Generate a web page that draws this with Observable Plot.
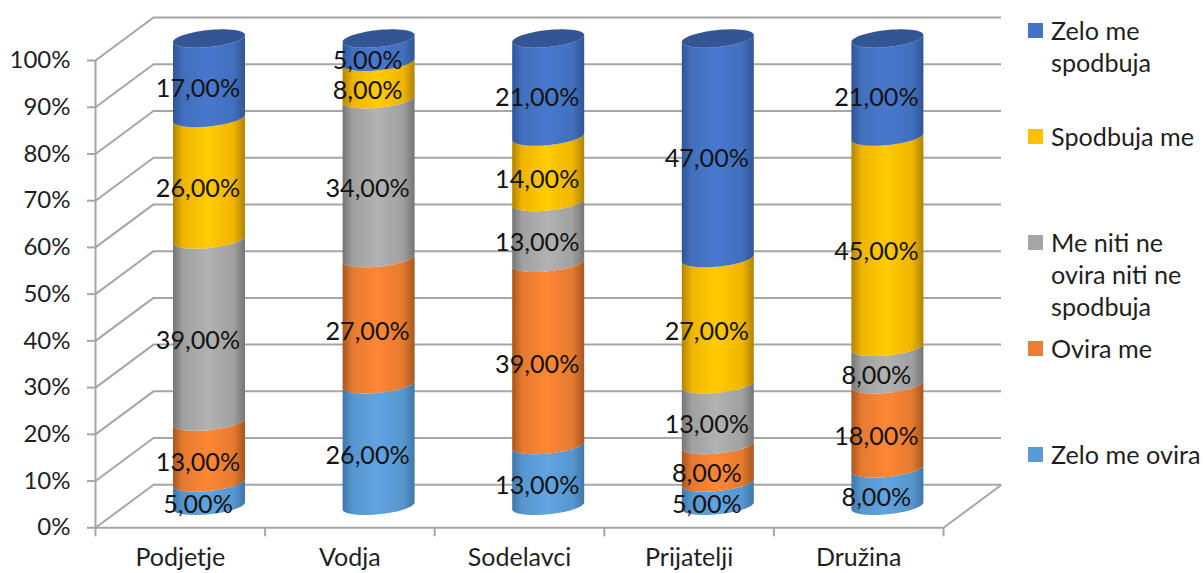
<!DOCTYPE html>
<html>
<head>
<meta charset="utf-8">
<script src="https://cdn.jsdelivr.net/npm/d3@7"></script>
<script src="https://cdn.jsdelivr.net/npm/@observablehq/plot@0.6"></script>
<style>
  html, body { margin: 0; padding: 0; background: #fff; }
  #chart { position: relative; width: 1203px; height: 573px; overflow: hidden; font-family: Lato, sans-serif; }
  #chart svg { display: block; }
  #legend { position: absolute; left: 1028px; top: 14px; width: 175px; color: #1f1f1f; font-size: 25.2px; line-height: 32px; }
  #legend .entry { height: 106px; display: flex; align-items: flex-start; }
  #legend .swatch { flex: none; width: 15px; height: 15px; margin: 9px 8px 0 0; }
</style>
</head>
<body>
<div id="chart"></div>
<script>
// Share of answers per group, in percent.
const groups = ["Podjetje", "Vodja", "Sodelavci", "Prijatelji", "Družina"];
const seriesNames = ["Zelo me ovira", "Ovira me", "Me niti ne ovira niti ne spodbuja", "Spodbuja me", "Zelo me spodbuja"];
const zeloMeOvira = [5, 26, 13, 5, 8];
const oviraMe = [13, 27, 39, 8, 18];
const meNiti = [39, 34, 13, 13, 8];
const spodbujaMe = [26, 8, 14, 27, 45];
const zeloMeSpodbuja = [17, 5, 21, 47, 21];
const seriesValues = [zeloMeOvira, oviraMe, meNiti, spodbujaMe, zeloMeSpodbuja];
const percentTicks = [0, 10, 20, 30, 40, 50, 60, 70, 80, 90, 100];

// Swatch colour and cylinder shading (edge, shoulder, highlight) per series.
const swatchColors = ["#5B9BD5", "#ED7D31", "#A5A5A5", "#FFC000", "#4472C4"];
const shading = [
  ["#3F77A8", "#5796CF", "#60A4E2"],
  ["#A8561F", "#E57A2F", "#FF8735"],
  ["#757575", "#A0A0A0", "#B2B2B2"],
  ["#B08400", "#F0B500", "#FFCC00"],
  ["#2F5596", "#4270BE", "#4878CE"]
];
const capColor = "#335593";

// Drawing geometry of the pseudo-3D box, in scale units.
const pxPerX = 848 / 5;
const pxPerY = 467.3 / 100;
const depthX = 58 / pxPerX;
const depthY = 43 / pxPerY;
const radiusX = 36 / pxPerX;
const tilt = 3.5 / pxPerY;   // rise of the ellipse from left to right end
const bulge = 8.5 / pxPerY;  // half height of the ellipse
const midDx = 29.2, midDy = -21.5;

// Points along an ellipse edge, left to right; side = +1 front half, -1 back half.
const angles = d3.range(0, 49).map((i) => Math.PI - (i * Math.PI) / 48);
const edge = (u, side) => u * tilt - side * bulge * Math.sqrt(Math.max(0, 1 - u * u));

const segments = seriesValues.map((values, s) =>
  groups.map((group, g) => {
    const lo = d3.sum(seriesValues.slice(0, s), (v) => v[g]);
    return { group, g, lo, hi: lo + values[g], value: values[g] };
  })
);

const sideShape = (rows) =>
  rows.flatMap((d) =>
    angles.map((a) => {
      const u = Math.cos(a);
      return {
        group: d.group,
        x: d.g + 0.5 + u * radiusX,
        y1: d.lo + edge(u, 1),
        y2: d.hi + edge(u, 1)
      };
    })
  );

const capShape = groups.flatMap((group, g) =>
  angles.map((a) => {
    const u = Math.cos(a);
    return {
      group,
      x: g + 0.5 + u * radiusX,
      y1: 100 + edge(u, 1),
      y2: 100 + edge(u, -1)
    };
  })
);

const labels = segments.flat();
const decimalComma = (v) => v.toFixed(2).replace(".", ",") + "%";

// Horizontal gradients that give the stacked segments their round look.
function gradients() {
  const ns = "http://www.w3.org/2000/svg";
  const defs = document.createElementNS(ns, "defs");
  shading.forEach(([edgeColor, shoulder, light], i) => {
    const g = document.createElementNS(ns, "linearGradient");
    g.setAttribute("id", "cyl" + i);
    [[0, edgeColor], [0.14, shoulder], [0.48, light], [0.84, shoulder], [1, edgeColor]].forEach(([o, c]) => {
      const stop = document.createElementNS(ns, "stop");
      stop.setAttribute("offset", o);
      stop.setAttribute("stop-color", c);
      g.appendChild(stop);
    });
    defs.appendChild(g);
  });
  return defs;
}

const gridColor = "#A6A6A6";
const textColor = "#1f1f1f";

const plot = Plot.plot({
  width: 1203,
  height: 573,
  marginLeft: 95,
  marginRight: 260,
  marginTop: 60,
  marginBottom: 45.7,
  style: { fontFamily: "Lato, sans-serif", background: "#fff", overflow: "visible" },
  x: { domain: [0, 5] },
  y: { domain: [0, 100] },
  marks: [
    gradients,
    // Back wall and side wall grid, floor outline.
    Plot.ruleY(percentTicks, { y: (d) => d + depthY, x1: depthX, x2: 5 + depthX, stroke: gridColor, strokeWidth: 2 }),
    Plot.link(percentTicks, { x1: 0, y1: (d) => d, x2: depthX, y2: (d) => d + depthY, stroke: gridColor, strokeWidth: 2 }),
    Plot.link([0], { x1: 5, y1: 0, x2: 5 + depthX, y2: depthY, stroke: gridColor, strokeWidth: 2 }),
    Plot.ruleX([0], { y1: 0, y2: 100, stroke: gridColor, strokeWidth: 2 }),
    Plot.ruleY([0], { x1: 0, x2: 5, stroke: gridColor, strokeWidth: 2 }),
    Plot.axisY({
      ticks: percentTicks, tickFormat: (d) => d + "%", tickSize: 8, tickPadding: 17,
      label: null, stroke: gridColor, strokeWidth: 2, fill: textColor, fontSize: 24
    }),
    Plot.axisX({ ticks: d3.range(0, 6), tickSize: 9, tickFormat: () => "", label: null, stroke: gridColor, strokeWidth: 2 }),
    Plot.axisX({
      ticks: groups.map((_, i) => i + 0.5), tickSize: 0, tickPadding: 20,
      tickFormat: (d) => groups[d - 0.5], label: null, fill: textColor, fontSize: 25
    }),
    // Cylinders, bottom segment first.
    ...segments.map((rows, s) =>
      Plot.area(sideShape(rows), {
        x1: "x", y1: "y1", y2: "y2", z: "group",
        fill: `url(#cyl${s})`, dx: midDx, dy: midDy
      })
    ),
    Plot.area(capShape, { x1: "x", y1: "y1", y2: "y2", z: "group", fill: capColor, dx: midDx, dy: midDy }),
    // Value labels.
    Plot.text(labels, {
      x: (d) => d.g + 0.5,
      y: (d) => (d.lo + d.hi) / 2,
      text: (d) => decimalComma(d.value),
      dx: midDx - 11.5,
      dy: midDy + 10,
      fill: "#141414",
      fontSize: 25.2
    })
  ]
});

const chart = document.getElementById("chart");
chart.appendChild(plot);

// Legend, top entry first.
const legend = document.createElement("div");
legend.id = "legend";
const legendLines = [["Zelo me", "spodbuja"], ["Spodbuja me"], ["Me niti ne", "ovira niti ne", "spodbuja"], ["Ovira me"], ["Zelo me ovira"]];
legendLines.forEach((lines, i) => {
  const entry = document.createElement("div");
  entry.className = "entry";
  const swatch = document.createElement("span");
  swatch.className = "swatch";
  swatch.style.background = swatchColors[4 - i];
  const text = document.createElement("span");
  text.innerHTML = lines.join("<br>");
  entry.append(swatch, text);
  legend.appendChild(entry);
});
chart.appendChild(legend);
</script>
</body>
</html>
